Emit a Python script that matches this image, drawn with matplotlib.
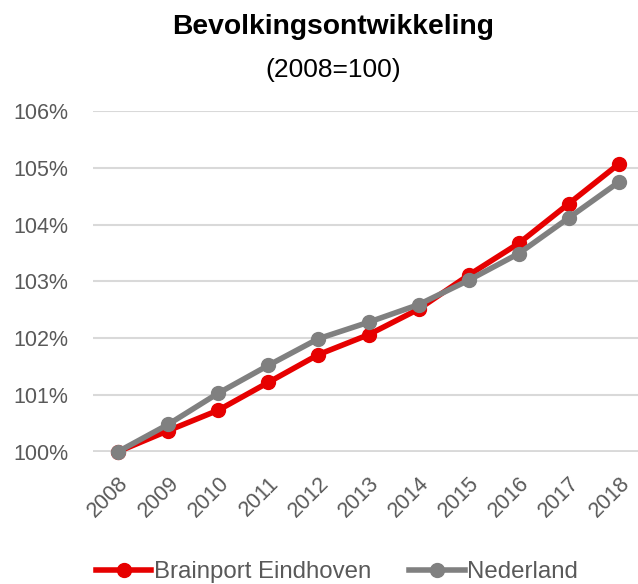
import matplotlib
matplotlib.use("Agg")
import matplotlib.pyplot as plt
from matplotlib.ticker import FuncFormatter

years = [2008, 2009, 2010, 2011, 2012, 2013, 2014, 2015, 2016, 2017, 2018]
brainport = [100.0, 100.37, 100.73, 101.22, 101.71, 102.06, 102.51, 103.11, 103.67, 104.37, 105.07]
nederland = [100.0, 100.48, 101.03, 101.52, 101.99, 102.28, 102.59, 103.02, 103.49, 104.12, 104.75]
yticks = [100, 101, 102, 103, 104, 105, 106]

plt.rcParams['font.family'] = ['Liberation Sans', 'DejaVu Sans']

W, H = 638, 584
fig = plt.figure(figsize=(W / 100, H / 100), dpi=100)
left, right = 93 / W, 638 / W
bottom, top = 1 - 451.7 / H, 1 - 111 / H
ax = fig.add_axes([left, bottom, right - left, top - bottom])

red = '#E60000'
grey = '#808080'
ax.plot(years, brainport, color=red, lw=4, marker='o', ms=10, label='Brainport Eindhoven',
        clip_on=False, zorder=3)
ax.plot(years, nederland, color=grey, lw=4, marker='o', ms=10, label='Nederland',
        clip_on=False, zorder=4)

x0 = years[0] - 25 / 50.1
x1 = x0 + (638 - 93) / 50.1
ax.set_xlim(x0, x1)
ax.set_ylim(100, 106)
ax.set_yticks(yticks)
ax.yaxis.set_major_formatter(FuncFormatter(lambda v, p: f"{int(round(v))}%"))
ax.set_xticks(years)
ax.set_xticklabels([str(y) for y in years], rotation=45, ha='right', va='top',
                   rotation_mode='anchor')
ax.grid(axis='y', color='#d9d9d9', lw=1.5)
ax.set_axisbelow(True)
for s in ax.spines.values():
    s.set_visible(False)
ax.axhline(100, color='#d9d9d9', lw=3.5, zorder=1)
ax.tick_params(length=0, labelsize=15.5, colors='#595959')
ax.tick_params(axis='y', pad=18)
ax.tick_params(axis='x', pad=15)

fig.text(333 / W, 1 - 27 / H, 'Bevolkingsontwikkeling', ha='center', va='center',
         fontsize=20.3, fontweight='bold', color='black')
fig.text(333 / W, 1 - 70 / H, '(2008=100)', ha='center', va='center',
         fontsize=19, color='black')

leg = fig.legend(loc='center', bbox_to_anchor=(337 / W, 1 - 572 / H), ncol=2, frameon=False,
                 fontsize=17.3, handlelength=2.3, columnspacing=1.6, handletextpad=0.1,
                 labelcolor='#595959')

fig.savefig('out.png', dpi=100)
